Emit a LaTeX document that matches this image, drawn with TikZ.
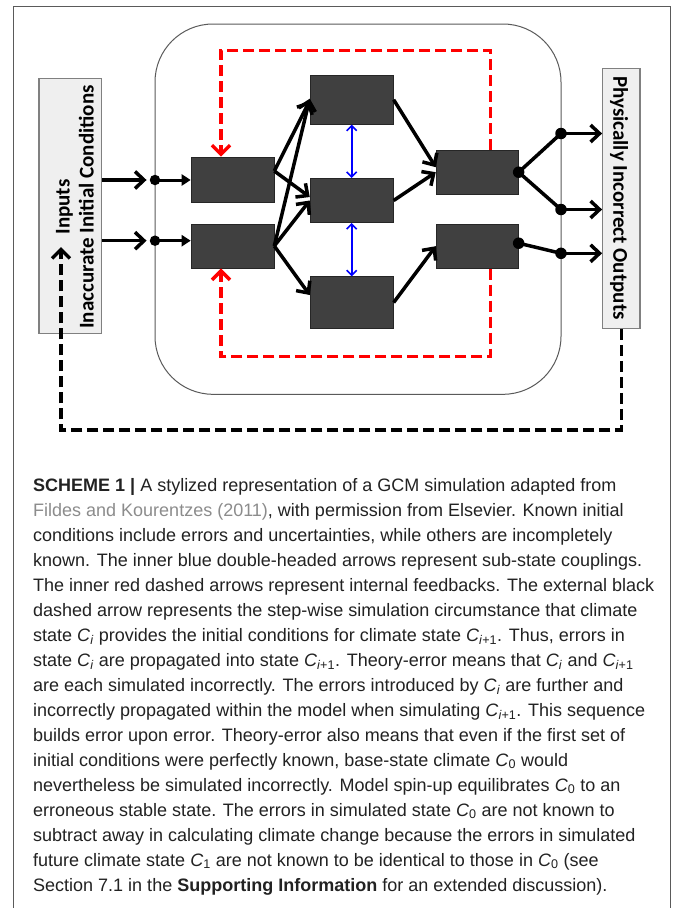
\documentclass[tikz,border=0pt]{standalone}
\usepackage{fontspec}
\setmainfont{Liberation Sans}
\newfontfamily\carlito{Carlito}
\usetikzlibrary{arrows.meta}
\definecolor{boxdark}{HTML}{404040}
\definecolor{boxlight}{HTML}{EFEFEF}
\definecolor{boxedge}{HTML}{808080}
\definecolor{framegray}{HTML}{5A5A5A}
\definecolor{redfb}{HTML}{FF0000}
\definecolor{bluecp}{HTML}{0000FF}
\definecolor{captxt}{HTML}{222222}
\definecolor{citegray}{HTML}{8C8C8C}
\newcommand{\Cst}[1]{\textit{C}\textsubscript{#1}}
\begin{document}
\begin{tikzpicture}[x=1pt,y=-1pt,
  darkbox/.style={draw=black!85, fill=boxdark, inner sep=0pt, line width=0.6pt},
  lightbox/.style={draw=boxedge, fill=boxlight, line width=1.2pt, inner sep=0pt},
  flow/.style={line width=3.5pt, -{Straight Barb[length=9pt,width=17pt]}},
  link/.style={line width=3.5pt, line cap=round},
  feed/.style={line width=3pt, -{Triangle[length=9pt,width=11pt]}},
  dot/.style={circle, fill=black, inner sep=0pt, minimum size=10.5pt},
  bigdot/.style={circle, fill=black, inner sep=0pt, minimum size=11.5pt},
  feedback/.style={draw=redfb, line width=3.5pt, dash pattern=on 11pt off 5pt, -{Straight Barb[length=9pt,width=18pt]}},
  extfb/.style={draw=black, line width=3.5pt, dash pattern=on 11pt off 5pt, -{Straight Barb[length=9pt,width=18pt]}},
  couple/.style={draw=bluecp, line width=1.6pt, {Straight Barb[length=5pt,width=10pt]}-{Straight Barb[length=5pt,width=10pt]}},
  boxlabel/.style={font=\carlito\bfseries\fontsize{21}{24}\selectfont, inner sep=0pt},
  captext/.style={font=\fontsize{18}{22}\selectfont, text=captxt, inner sep=0pt, anchor=base west}
]
\useasboundingbox (0,0) rectangle (673,908);
\fill[white] (0,0) rectangle (673,908);
% outer frame
\draw[framegray, line width=1pt] (13.3,908) -- (13.3,6.7) -- (670.5,6.7) -- (670.5,908);
% model container
\node[draw=framegray, line width=1pt, fill=white, rounded corners=58pt, minimum width=406pt, minimum height=370.3pt, inner sep=0pt] (model) at (358,209.15) {};
% input / output boxes
\node[lightbox, minimum width=62.7pt, minimum height=255pt] (In) at (70.35,205.8) {};
\node[lightbox, minimum width=37.3pt, minimum height=260pt] (Out) at (621.35,198.3) {};
\node[boxlabel, rotate=90, align=center] (inlabel) at (75,207) {Inputs\\Inaccurate Initial Conditions};
\node[boxlabel, rotate=-90] (outlabel) at (619,198) {Physically Incorrect Outputs};
% dark boxes
\node[darkbox, minimum width=83pt, minimum height=45pt] (L1) at (232.5,179.5) {};
\node[darkbox, minimum width=83pt, minimum height=44pt] (L2) at (232.5,246) {};
\node[darkbox, minimum width=83.3pt, minimum height=49.3pt] (M1) at (351.7,99.7) {};
\node[darkbox, minimum width=83.3pt, minimum height=44.4pt] (M2) at (351.7,200.5) {};
\node[darkbox, minimum width=83.3pt, minimum height=51.6pt] (M3) at (351.7,302.5) {};
\node[darkbox, minimum width=82.3pt, minimum height=44.3pt] (R1) at (477.2,172.2) {};
\node[darkbox, minimum width=82.3pt, minimum height=44.3pt] (R2) at (477.2,246.2) {};
% input dots
\node[dot] (di1) at (155,180) {};
\node[dot] (di2) at (155,240.7) {};
% output dots
\node[bigdot] (dr1) at (R1.east) {};
\node[bigdot] (dr2) at ([yshift=3pt]R2.east) {};
\node[bigdot] (do1) at (561,133.5) {};
\node[bigdot] (do2) at (561,209.5) {};
\node[bigdot] (do3) at (561,253.3) {};
\coordinate (fbend) at (61,247);
% inputs
\draw[flow] (In.east |- di1) -- ([xshift=-3pt]di1.west);
\draw[flow] (In.east |- di2) -- ([xshift=-3pt]di2.west);
\draw[feed] (di1.center) -- (di1 -| L1.west);
\draw[feed] (di2.center) -- (di2 -| L2.west);
% internal flows
\draw[flow] ([yshift=8.5pt]L1.east) -- ([yshift=-1pt]M1.west);
\draw[flow] (L2.east) -- ([yshift=1pt]M1.west);
\draw[flow] ([yshift=8.5pt]L1.east) -- ([yshift=3.5pt]M2.west);
\draw[flow] (L2.east) -- (M2.west);
\draw[flow] (L2.east) -- ([yshift=7.5pt]M3.west);
\draw[flow] (M1.east) -- ([yshift=5pt]R1.west);
\draw[flow] (M2.east) -- (R1.west);
\draw[flow] (M3.east) -- (R2.west);
% couplings
\draw[couple] (M1.south) -- (M2.north);
\draw[couple] (M2.south) -- (M3.north);
% outputs
\draw[link] (dr1.center) -- (do1.center);
\draw[link] (dr1.center) -- (do2.center);
\draw[link] (dr2.center) -- (do3.center);
\draw[flow] (do1.center) -- (do1 -| Out.west);
\draw[flow] (do2.center) -- (do2 -| Out.west);
\draw[flow] (do3.center) -- (do3 -| Out.west);
% internal feedbacks
\draw[feedback] ([xshift=13.5pt]R1.north) -- ++(0,-99.3) -| ([xshift=-11.5pt]L1.north);
\draw[feedback] ([xshift=13.5pt]R2.south) -- ++(0,87.7) -| ([xshift=-11.5pt]L2.south);
% external feedback
\draw[extfb] (Out.south) -- ++(0,101) -| (fbend);
% caption
\node[captext] (c1) at (33,491) {\textbf{SCHEME 1 |} A stylized representation of a GCM simulation adapted from};
\node[captext] (c2) at (33,516) {\textcolor{citegray}{Fildes and Kourentzes (2011)}, with permission from Elsevier. Known initial};
\node[captext] (c3) at (33,541) {conditions include errors and uncertainties, while others are incompletely};
\node[captext] (c4) at (33,566) {known. The inner blue double-headed arrows represent sub-state couplings.};
\node[captext] (c5) at (33,591) {The inner red dashed arrows represent internal feedbacks. The external black};
\node[captext] (c6) at (33,616) {dashed arrow represents the step-wise simulation circumstance that climate};
\node[captext] (c7) at (33,641) {state \Cst{\textit{i}} provides the initial conditions for climate state \Cst{\textit{i}+1}. Thus, errors in};
\node[captext] (c8) at (33,666) {state \Cst{\textit{i}} are propagated into state \Cst{\textit{i}+1}. Theory-error means that \Cst{\textit{i}} and \Cst{\textit{i}+1}};
\node[captext] (c9) at (33,691) {are each simulated incorrectly. The errors introduced by \Cst{\textit{i}} are further and};
\node[captext] (c10) at (33,716) {incorrectly propagated within the model when simulating \Cst{\textit{i}+1}. This sequence};
\node[captext] (c11) at (33,741) {builds error upon error. Theory-error also means that even if the first set of};
\node[captext] (c12) at (33,766) {initial conditions were perfectly known, base-state climate \Cst{0} would};
\node[captext] (c13) at (33,791) {nevertheless be simulated incorrectly. Model spin-up equilibrates \Cst{0} to an};
\node[captext] (c14) at (33,816) {erroneous stable state. The errors in simulated state \Cst{0} are not known to};
\node[captext] (c15) at (33,841) {subtract away in calculating climate change because the errors in simulated};
\node[captext] (c16) at (33,866) {future climate state \Cst{1} are not known to be identical to those in \Cst{0} (see};
\node[captext] (c17) at (33,891) {Section 7.1 in the \textbf{Supporting Information} for an extended discussion).};
\end{tikzpicture}
\end{document}
